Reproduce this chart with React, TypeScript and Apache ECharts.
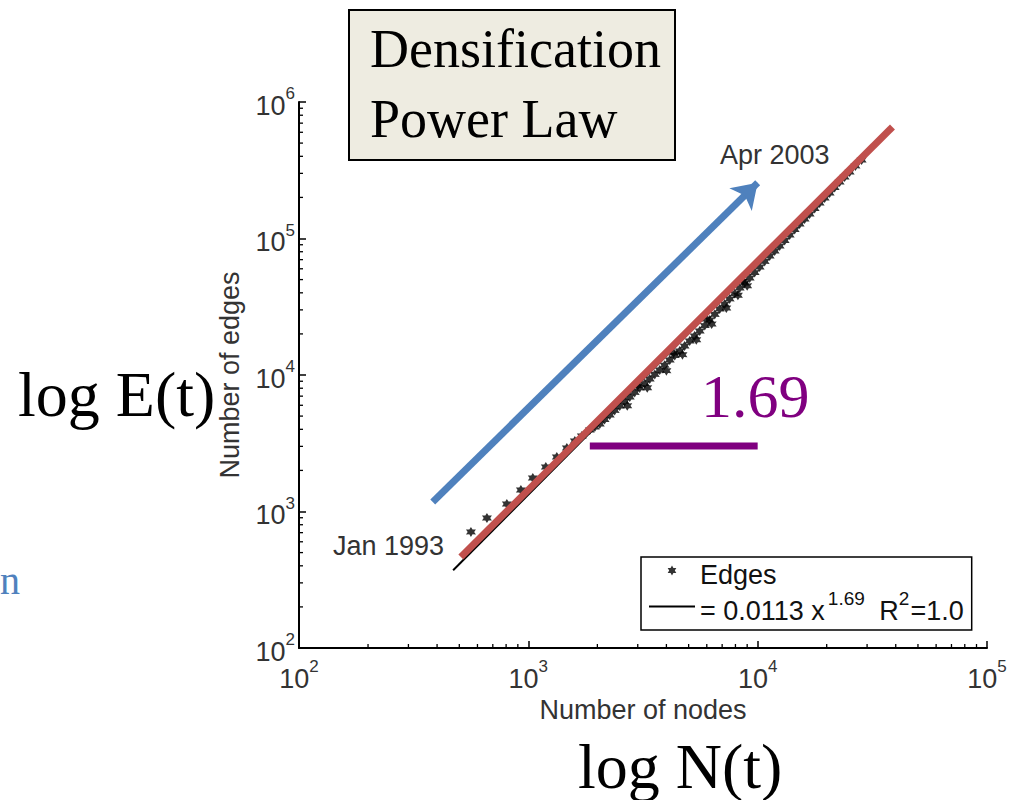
import React, { useEffect, useRef } from "react";
import * as echarts from "echarts";

// ---------- data ----------
const nodes: number[] = [
  562, 660, 806, 928, 1046, 1192, 1331, 1472, 1595, 1711, 1854,
  1950, 2049, 2150, 2265, 2380, 2504, 2630, 2769, 2910, 3060, 3220, 3383,
  3560, 3741, 3930, 4136, 4350, 4572, 4800, 5054, 5310, 5588, 5880, 6178,
  6500, 6830, 7180, 7551, 7940, 8349, 8780, 9230, 9700, 10200, 10730,
  11280, 11860, 12470, 13110, 13790, 14500, 15240, 16020, 16850, 17720,
  18630, 19590, 20600, 21660, 22770, 23940, 25180, 26700, 28400,
  2700, 3300, 4000, 4700, 5400, 6300, 7300, 8200, 9000,
  3000, 4300, 6000, 8600,
];
const edges: number[] = [
  708, 896, 1135, 1437, 1760, 2118, 2507, 2919, 3285, 3574, 3954,
  4160, 4375, 4720, 5093, 5500, 5929, 6400, 6902, 7450, 8035, 8650, 9350,
  10100, 10880, 11800, 12880, 13900, 14990, 16300, 17750, 19300, 21010, 23000, 25290,
  27800, 30440, 33100, 36060, 39500, 43350, 47200, 51380, 56300, 61810, 67900,
  74430, 81000, 88130, 96700, 106100, 116400, 127700, 139000, 151100, 165800,
  182000, 198000, 215400, 236400, 259400, 282000, 307000, 340000, 375800,
  5950, 8050, 10750, 14100, 18100, 23600, 30900, 38400, 45000,
  8350, 14500, 25700, 48700,
];
// fitted power law E = 0.0113 N^1.69 (end points)
const fitNodes: number[] = [470, 28600];
const fitEdges: number[] = [371, 384000];
// slide annotations
const redLineNodes: number[] = [508, 38700];
const redLineEdges: number[] = [464, 656000];
const arrowNodes: number[] = [383, 10000];
const arrowEdges: number[] = [1175, 256000];
const slopeNodes: number[] = [1854, 10000];
const slopeEdges: number[] = [3020, 3020];

const xMin = 100, xMax = 100000;
const yMin = 100, yMax = 1000000;
const minorMults = [2, 3, 4, 5, 6, 7, 8, 9];
const xDecades = [100, 1000, 10000];
const yDecades = [100, 1000, 10000, 100000];

const STAR =
  "path://M0,-5L1.4,-2.4L4.33,-2.5L2.8,0L4.33,2.5L1.4,2.4L0,5L-1.4,2.4L-4.33,2.5L-2.8,0L-4.33,-2.5L-1.4,-2.4Z";
const BAR = "path://M0,0H46V2H0Z";

const SANS = "'Liberation Sans', Arial, sans-serif";
const SERIF = "'Liberation Serif', 'Times New Roman', serif";

export default function App() {
  const ref = useRef<HTMLDivElement>(null);
  useEffect(() => {
    if (!ref.current) return;
    const chart = echarts.init(ref.current, undefined, { renderer: "svg" });

    const xMinor: number[][] = [];
    xDecades.forEach((d) => minorMults.forEach((m) => xMinor.push([d * m, yMin])));
    const yMinor: number[][] = [];
    yDecades.forEach((d) => minorMults.forEach((m) => yMinor.push([xMin, d * m])));

    const expLabel = (v: number) => `{b|10}{s|${Math.round(Math.log10(v))}}`;
    const labelRich = {
      b: { fontSize: 27, fontFamily: SANS, color: "#333", lineHeight: 34, verticalAlign: "bottom" },
      s: { fontSize: 17, fontFamily: SANS, color: "#333", lineHeight: 17, verticalAlign: "top" },
    };

    const option: any = {
      animation: false,
      backgroundColor: "#fff",
      grid: { left: 299, top: 102, width: 688, height: 546, containLabel: false },
      xAxis: {
        type: "log",
        logBase: 10,
        min: xMin,
        max: xMax,
        name: "Number of nodes",
        nameLocation: "middle",
        nameGap: 43,
        nameTextStyle: { fontSize: 27, fontFamily: SANS, color: "#333" },
        axisLine: { show: true, lineStyle: { color: "#000", width: 2 } },
        axisTick: { show: true, inside: true, length: 7, lineStyle: { color: "#000", width: 1.5 } },
        minorTick: { show: false },
        splitLine: { show: false },
        axisLabel: { formatter: expLabel, rich: labelRich, margin: 10 },
      },
      yAxis: {
        type: "log",
        logBase: 10,
        min: yMin,
        max: yMax,
        name: "Number of edges",
        nameLocation: "middle",
        nameGap: 56,
        nameRotate: 90,
        nameTextStyle: { fontSize: 27, fontFamily: SANS, color: "#333" },
        axisLine: { show: true, lineStyle: { color: "#000", width: 2 } },
        axisTick: { show: true, inside: true, length: 7, lineStyle: { color: "#000", width: 1.5 } },
        minorTick: { show: false },
        splitLine: { show: false },
        axisLabel: { formatter: expLabel, rich: labelRich, margin: 4 },
      },
      legend: {
        orient: "vertical",
        left: 641,
        top: 557,
        data: [{ name: "Edges", icon: STAR }, { name: "fit", icon: BAR }],
        backgroundColor: "#fff",
        borderColor: "#000",
        borderWidth: 1.5,
        borderRadius: 0,
        padding: [4, 8, 6, 8],
        itemWidth: 46,
        itemHeight: 10,
        itemGap: 1,
        selectedMode: false,
        formatter: (name: string) =>
          name === "Edges" ? "{t|Edges}" : "{t|= 0.0113 x}{s|1.69}{t| R}{s2|2}{t|=1.0}",
        textStyle: {
          color: "#111",
          rich: {
            t: { fontSize: 27, fontFamily: SANS, color: "#111", lineHeight: 35, verticalAlign: "bottom" },
            s: {
              fontSize: 19,
              fontFamily: SANS,
              color: "#111",
              lineHeight: 19,
              verticalAlign: "top",
              padding: [0, 7, 0, 3],
            },
            s2: {
              fontSize: 19,
              fontFamily: SANS,
              color: "#111",
              lineHeight: 19,
              verticalAlign: "top",
              padding: [0, 1, 0, 0],
            },
          },
        },
      },
      series: [
        {
          name: "fit",
          type: "line",
          data: fitNodes.map((x, i) => [x, fitEdges[i]]),
          symbol: "none",
          lineStyle: { color: "#000", width: 2 },
          itemStyle: { color: "#000" },
          z: 3,
        },
        {
          name: "Edges",
          type: "scatter",
          data: nodes.map((x, i) => [x, edges[i]]),
          symbol: STAR,
          symbolSize: 10,
          itemStyle: { color: "#000" },
          z: 4,
        },
        {
          name: "redLine",
          type: "line",
          data: redLineNodes.map((x, i) => [x, redLineEdges[i]]),
          symbol: "none",
          lineStyle: { color: "#C0504D", width: 7, cap: "butt" },
          z: 5,
        },
        {
          name: "slope",
          type: "line",
          data: slopeNodes.map((x, i) => [x, slopeEdges[i]]),
          symbol: "none",
          lineStyle: { color: "#800080", width: 7, cap: "butt" },
          z: 5,
        },
        {
          name: "arrow",
          type: "lines",
          coordinateSystem: "cartesian2d",
          data: [{ coords: arrowNodes.map((x, i) => [x, arrowEdges[i]]) }],
          symbol: ["none", "arrow"],
          symbolSize: [22, 24],
          lineStyle: { color: "#4F81BD", width: 7, opacity: 1 },
          z: 6,
        },
        {
          name: "xMinor",
          type: "custom",
          coordinateSystem: "cartesian2d",
          silent: true,
          clip: false,
          data: xMinor,
          renderItem: (_p: any, api: any) => {
            const pt = api.coord([api.value(0), api.value(1)]);
            return {
              type: "line",
              shape: { x1: pt[0], y1: pt[1], x2: pt[0], y2: pt[1] - 4 },
              style: { stroke: "#000", lineWidth: 1.3 },
            };
          },
          z: 2,
        },
        {
          name: "yMinor",
          type: "custom",
          coordinateSystem: "cartesian2d",
          silent: true,
          clip: false,
          data: yMinor,
          renderItem: (_p: any, api: any) => {
            const pt = api.coord([api.value(0), api.value(1)]);
            return {
              type: "line",
              shape: { x1: pt[0], y1: pt[1], x2: pt[0] + 4, y2: pt[1] },
              style: { stroke: "#000", lineWidth: 1.3 },
            };
          },
          z: 2,
        },
      ],
      graphic: [
        {
          type: "rect",
          shape: { x: 349, y: 10, width: 326, height: 150 },
          style: { fill: "#EEECE1", stroke: "#000", lineWidth: 2 },
          z: 10,
        },
        {
          type: "text",
          x: 370,
          y: 49,
          style: { text: "Densification", font: `54px ${SERIF}`, fill: "#000", verticalAlign: "middle" },
          z: 11,
        },
        {
          type: "text",
          x: 370,
          y: 119,
          style: { text: "Power Law", font: `54px ${SERIF}`, fill: "#000", verticalAlign: "middle" },
          z: 11,
        },
        {
          type: "text",
          x: 18,
          y: 394,
          style: { text: "log E(t)", font: `64px ${SERIF}`, fill: "#000", verticalAlign: "middle" },
        },
        {
          type: "text",
          x: 578,
          y: 766,
          style: { text: "log N(t)", font: `64px ${SERIF}`, fill: "#000", verticalAlign: "middle" },
        },
        {
          type: "text",
          x: 701,
          y: 396,
          style: { text: "1.69", font: `62px ${SERIF}`, fill: "#800080", verticalAlign: "middle" },
        },
        {
          type: "text",
          x: 720,
          y: 155,
          style: { text: "Apr 2003", font: `27px ${SANS}`, fill: "#333", verticalAlign: "middle" },
        },
        {
          type: "text",
          x: 333,
          y: 546,
          style: { text: "Jan 1993", font: `27px ${SANS}`, fill: "#333", verticalAlign: "middle" },
        },
        {
          type: "text",
          x: 0,
          y: 580,
          style: { text: "n", font: `40px ${SERIF}`, fill: "#4F81BD", verticalAlign: "middle" },
        },
      ],
    };
    chart.setOption(option);
    return () => chart.dispose();
  }, []);
  return (
    <div
      ref={ref}
      style={{ position: "absolute", left: 0, top: 0, width: 1011, height: 800, background: "#fff" }}
    />
  );
}
